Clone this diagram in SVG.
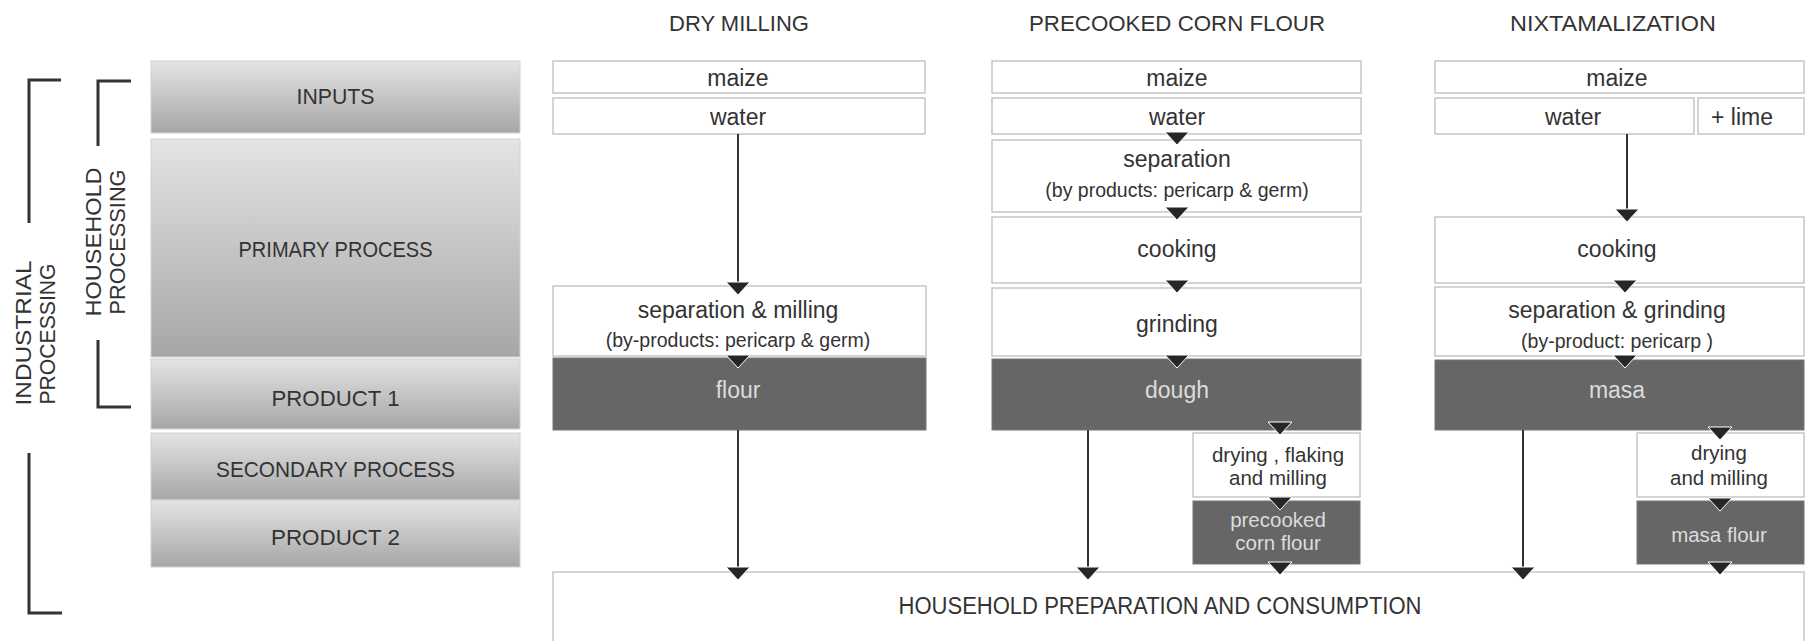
<svg xmlns="http://www.w3.org/2000/svg" width="1810" height="641" viewBox="0 0 1810 641">
<defs>
<linearGradient id="gg" x1="0" y1="0" x2="0" y2="1">
<stop offset="0" stop-color="#e4e4e4"/>
<stop offset="1" stop-color="#a6a6a6"/>
</linearGradient>
<marker id="ah" markerUnits="userSpaceOnUse" markerWidth="15" markerHeight="26" viewBox="-1 -1 15 26" refX="13" refY="12" orient="auto">
<path d="M0,0 L13,12 L0,24 Z" fill="#262626" stroke="#ffffff" stroke-width="1"/>
</marker>
<style>
text{font-family:"Liberation Sans",Arial,sans-serif;fill:#333;}
.g{fill:url(#gg);stroke:#d2d2d2;stroke-width:1;}
.gl{font-size:22px;text-anchor:middle;}
.w{fill:#fff;stroke:#c6c6c6;stroke-width:1.5;}
.d{fill:#666;stroke:#777;stroke-width:1;}
.t{font-size:22px;text-anchor:middle;}
.m{font-size:23px;text-anchor:middle;}
.s{font-size:19.5px;text-anchor:middle;}
.sm{font-size:20.5px;text-anchor:middle;}
.lt{fill:#dcdcdc;}
.br{fill:none;stroke:#333;stroke-width:3;}
.rl{font-size:22px;text-anchor:middle;}
.c{stroke:#333;stroke-width:2;fill:none;marker-end:url(#ah);}
</style>
</defs>

<g id="brackets">
<path class="br" d="M61,80 H29 V223"/>
<path class="br" d="M29,453 V613 H62"/>
<path class="br" d="M131,81 H98 V146"/>
<path class="br" d="M98,340 V407 H131"/>
<text class="rl" transform="translate(31,333) rotate(-90)" textLength="145" lengthAdjust="spacingAndGlyphs">INDUSTRIAL</text>
<text class="rl" transform="translate(55,334) rotate(-90)" textLength="141" lengthAdjust="spacingAndGlyphs">PROCESSING</text>
<text class="rl" transform="translate(101,242) rotate(-90)" textLength="149" lengthAdjust="spacingAndGlyphs">HOUSEHOLD</text>
<text class="rl" transform="translate(125,242) rotate(-90)" textLength="145" lengthAdjust="spacingAndGlyphs">PROCESSING</text>
</g>

<g id="stages">
<g id="stage-inputs"><rect class="g" x="151" y="61" width="369" height="72"/><text class="gl" x="335.5" y="104" textLength="78" lengthAdjust="spacingAndGlyphs">INPUTS</text></g>
<g id="stage-primary"><rect class="g" x="151" y="139" width="369" height="218"/><text class="gl" x="335.5" y="257" textLength="194" lengthAdjust="spacingAndGlyphs">PRIMARY PROCESS</text></g>
<g id="stage-product1"><rect class="g" x="151" y="359" width="369" height="70"/><text class="gl" x="335.5" y="406" textLength="128" lengthAdjust="spacingAndGlyphs">PRODUCT 1</text></g>
<g id="stage-secondary"><rect class="g" x="151" y="433" width="369" height="67"/><text class="gl" x="335.5" y="477" textLength="239" lengthAdjust="spacingAndGlyphs">SECONDARY PROCESS</text></g>
<g id="stage-product2"><rect class="g" x="151" y="500" width="369" height="67"/><text class="gl" x="335.5" y="545" textLength="129" lengthAdjust="spacingAndGlyphs">PRODUCT 2</text></g>
</g>

<g id="titles">
<text class="t" x="739" y="31" textLength="140" lengthAdjust="spacingAndGlyphs">DRY MILLING</text>
<text class="t" x="1177" y="31" textLength="296" lengthAdjust="spacingAndGlyphs">PRECOOKED CORN FLOUR</text>
<text class="t" x="1613" y="31" textLength="206" lengthAdjust="spacingAndGlyphs">NIXTAMALIZATION</text>
</g>

<g id="dry-milling">
<g id="dm-maize"><rect class="w" x="553" y="61" width="372" height="32"/><text class="m" x="738" y="86">maize</text></g>
<g id="dm-water"><rect class="w" x="553" y="98" width="372" height="36"/><text class="m" x="738" y="125">water</text></g>
<g id="dm-sep"><rect class="w" x="553" y="286" width="373" height="70"/><text class="m" x="738" y="318">separation &amp; milling</text><text class="s" x="738" y="347">(by-products: pericarp &amp; germ)</text></g>
<g id="dm-flour"><rect class="d" x="553" y="358" width="373" height="72"/><text class="m lt" x="738" y="398">flour</text></g>
</g>

<g id="precooked">
<g id="pc-maize"><rect class="w" x="992" y="61" width="369" height="32"/><text class="m" x="1177" y="86">maize</text></g>
<g id="pc-water"><rect class="w" x="992" y="98" width="369" height="36"/><text class="m" x="1177" y="125">water</text></g>
<g id="pc-sep"><rect class="w" x="992" y="140" width="369" height="72"/><text class="m" x="1177" y="167">separation</text><text class="s" x="1177" y="197">(by products: pericarp &amp; germ)</text></g>
<g id="pc-cook"><rect class="w" x="992" y="217" width="369" height="66"/><text class="m" x="1177" y="257">cooking</text></g>
<g id="pc-grind"><rect class="w" x="992" y="288" width="369" height="68"/><text class="m" x="1177" y="332">grinding</text></g>
<g id="pc-dough"><rect class="d" x="992" y="359" width="369" height="71"/><text class="m lt" x="1177" y="398">dough</text></g>
<g id="pc-dry"><rect class="w" x="1193" y="433" width="167" height="64"/><text class="sm" x="1278" y="462">drying , flaking</text><text class="sm" x="1278" y="485">and milling</text></g>
<g id="pc-flour"><rect class="d" x="1193" y="501" width="167" height="63"/><text class="sm lt" x="1278" y="527">precooked</text><text class="sm lt" x="1278" y="550">corn flour</text></g>
</g>

<g id="nixtamalization">
<g id="nx-maize"><rect class="w" x="1435" y="61" width="369" height="32"/><text class="m" x="1617" y="86">maize</text></g>
<g id="nx-water"><rect class="w" x="1435" y="98" width="259" height="36"/><text class="m" x="1573" y="125">water</text></g>
<g id="nx-lime"><rect class="w" x="1698" y="98" width="106" height="36"/><text class="m" x="1742" y="125">+ lime</text></g>
<g id="nx-cook"><rect class="w" x="1435" y="217" width="369" height="66"/><text class="m" x="1617" y="257">cooking</text></g>
<g id="nx-sep"><rect class="w" x="1435" y="287" width="369" height="69"/><text class="m" x="1617" y="318">separation &amp; grinding</text><text class="s" x="1617" y="348">(by-product: pericarp )</text></g>
<g id="nx-masa"><rect class="d" x="1435" y="360" width="369" height="70"/><text class="m lt" x="1617" y="398">masa</text></g>
<g id="nx-dry"><rect class="w" x="1637" y="433" width="167" height="64"/><text class="sm" x="1719" y="460">drying</text><text class="sm" x="1719" y="485">and milling</text></g>
<g id="nx-flour"><rect class="d" x="1637" y="501" width="167" height="63"/><text class="sm lt" x="1719" y="542">masa flour</text></g>
</g>

<g id="household">
<rect class="w" x="553" y="572" width="1251" height="80"/>
<text x="1160" y="614" style="font-size:23px;text-anchor:middle" textLength="523" lengthAdjust="spacingAndGlyphs">HOUSEHOLD PREPARATION AND CONSUMPTION</text>
</g>

<g id="connectors">
<line class="c" x1="738" y1="134" x2="738" y2="295"/>
<line class="c" x1="738" y1="356" x2="738" y2="368"/>
<line class="c" x1="738" y1="430" x2="738" y2="580"/>
<line class="c" x1="1177" y1="133" x2="1177" y2="145"/>
<line class="c" x1="1177" y1="208" x2="1177" y2="220"/>
<line class="c" x1="1177" y1="281" x2="1177" y2="293"/>
<line class="c" x1="1177" y1="356" x2="1177" y2="368"/>
<line class="c" x1="1088" y1="430" x2="1088" y2="580"/>
<line class="c" x1="1280" y1="423" x2="1280" y2="435"/>
<line class="c" x1="1280" y1="498" x2="1280" y2="510"/>
<line class="c" x1="1280" y1="563" x2="1280" y2="575"/>
<line class="c" x1="1627" y1="134" x2="1627" y2="222"/>
<line class="c" x1="1625" y1="281" x2="1625" y2="293"/>
<line class="c" x1="1625" y1="356" x2="1625" y2="368"/>
<line class="c" x1="1523" y1="430" x2="1523" y2="580"/>
<line class="c" x1="1720" y1="428" x2="1720" y2="440"/>
<line class="c" x1="1720" y1="499" x2="1720" y2="511"/>
<line class="c" x1="1720" y1="563" x2="1720" y2="575"/>
</g>
</svg>
